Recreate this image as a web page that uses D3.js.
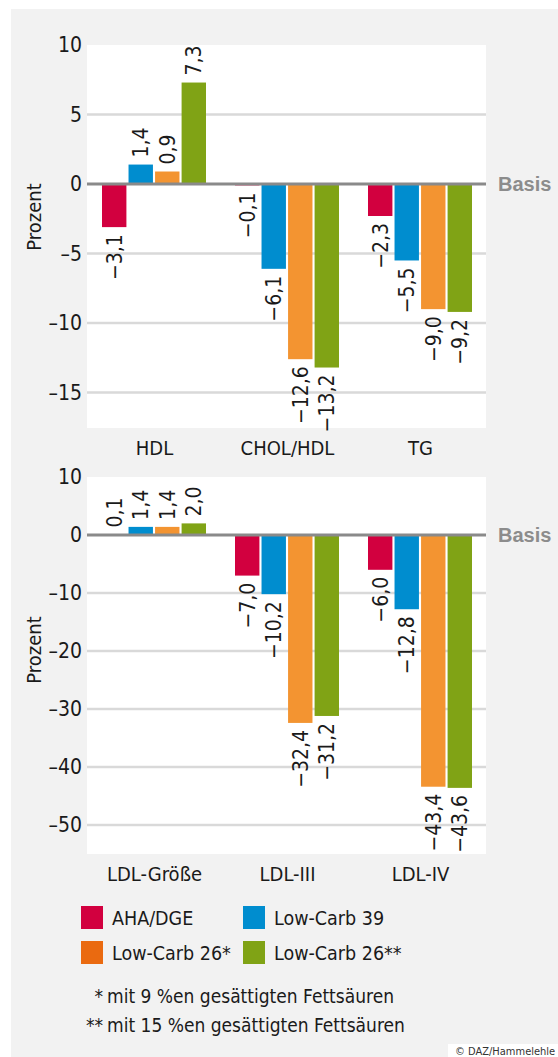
<!DOCTYPE html>
<html lang="de">
<head>
<meta charset="utf-8">
<script src="https://cdn.jsdelivr.net/npm/d3@7"></script>
<style>
  html, body { margin: 0; padding: 0; background: #ffffff; }
  svg { display: block; }
  .narrow { font-family: "Liberation Sans Narrow", "DejaVu Sans Condensed", "Arial Narrow", sans-serif; font-stretch: condensed; }
</style>
</head>
<body>
<svg id="chart" width="558" height="1057"></svg>
<script>
// Categories, split across the two panels
const categoriesTop = ["HDL", "CHOL/HDL", "TG"];
const categoriesBottom = ["LDL-Größe", "LDL-III", "LDL-IV"];

// Diets (series)
const seriesNames = ["AHA/DGE", "Low-Carb 39", "Low-Carb 26*", "Low-Carb 26**"];

// Percent change per series, in category order: HDL, CHOL/HDL, TG, LDL-Größe, LDL-III, LDL-IV
const ahaDge     = [-3.1,  -0.1, -2.3, 0.1,  -7.0,  -6.0];
const lowCarb39  = [ 1.4,  -6.1, -5.5, 1.4, -10.2, -12.8];
const lowCarb26a = [ 0.9, -12.6, -9.0, 1.4, -32.4, -43.4];
const lowCarb26b = [ 7.3, -13.2, -9.2, 2.0, -31.2, -43.6];

// Axis ticks
const topTicks = [10, 5, 0, -5, -10, -15];
const bottomTicks = [10, 0, -10, -20, -30, -40, -50];

// Footnotes
const footnoteMarks = ["*", "**"];
const footnoteTexts = ["mit 9 %en gesättigten Fettsäuren", "mit 15 %en gesättigten Fettsäuren"];

const barColors = ["#d2003f", "#008dcf", "#f39431", "#80a315"];
const legendColors = ["#d2003f", "#008dcf", "#ea6a10", "#80a315"];
const allSeries = [ahaDge, lowCarb39, lowCarb26a, lowCarb26b];

const svg = d3.select("#chart");
const fmt = v => d3.format(".1f")(v).replace(".", ",").replace("-", "\u2013");
const fmtTick = v => String(v).replace("-", "\u2013");

// Grey panel behind everything
svg.append("rect").attr("x", 11).attr("y", 9).attr("width", 547).attr("height", 1048).attr("fill", "#f2f2f2");

function drawPanel(opts) {
  const { categories, offset, domain, ticks, top, bottom, titleY } = opts;
  const left = 87, right = 486;
  const y = d3.scaleLinear().domain(domain).range([bottom, top]);
  const x0 = d3.scaleBand().domain(categories).range([left, right]).padding(0);
  const x1 = d3.scaleBand().domain(seriesNames).range([15, x0.bandwidth() - 14]).paddingInner(0.08).paddingOuter(0);

  const g = svg.append("g");

  // plot area
  g.append("rect").attr("x", left).attr("y", top).attr("width", right - left).attr("height", bottom - top).attr("fill", "#ffffff");

  // gridlines (skip zero and the top edge)
  g.selectAll("line.grid").data(ticks.filter(t => t !== 0 && t !== domain[1])).enter().append("line")
    .attr("x1", left).attr("x2", right)
    .attr("y1", d => y(d)).attr("y2", d => y(d))
    .attr("stroke", "#d9d9d9").attr("stroke-width", 2.5);

  // y axis tick labels
  const axis = d3.axisLeft(y).tickValues(ticks).tickSize(0).tickPadding(0).tickFormat(fmtTick);
  const ax = g.append("g").attr("transform", `translate(${left - 5},0)`).call(axis);
  ax.select(".domain").remove();
  ax.selectAll("text").attr("class", "narrow").attr("font-size", 21).attr("fill", "#1a1a1a").attr("dy", "0.33em");

  // y axis title
  g.append("text").attr("class", "narrow")
    .attr("transform", `translate(41,${titleY}) rotate(-90)`)
    .attr("text-anchor", "middle").attr("font-size", 20).attr("fill", "#1a1a1a")
    .text("Prozent");

  // bars
  const rows = [];
  categories.forEach((c, ci) => {
    seriesNames.forEach((s, si) => {
      rows.push({ cat: c, series: s, si, value: allSeries[si][ci + offset] });
    });
  });

  const groups = g.selectAll("g.bar").data(rows).enter().append("g")
    .attr("transform", d => `translate(${x0(d.cat) + x1(d.series)},0)`);

  groups.append("rect")
    .attr("x", 0).attr("width", x1.bandwidth())
    .attr("y", d => Math.min(y(0), y(d.value)))
    .attr("height", d => Math.abs(y(d.value) - y(0)))
    .attr("fill", d => barColors[d.si]);

  groups.append("text").attr("class", "narrow")
    .attr("transform", d => {
      const cx = x1.bandwidth() / 2;
      const yy = d.value >= 0 ? y(d.value) - 7 : y(d.value) + 7;
      return `translate(${cx},${yy}) rotate(-90)`;
    })
    .attr("text-anchor", d => d.value >= 0 ? "start" : "end")
    .attr("dy", "0.36em")
    .attr("font-size", 21).attr("fill", "#1a1a1a")
    .text(d => fmt(d.value));

  // zero line
  g.append("line").attr("x1", left).attr("x2", right).attr("y1", y(0)).attr("y2", y(0))
    .attr("stroke", "#8a8a8a").attr("stroke-width", 3);

  g.append("text")
    .attr("x", 498).attr("y", y(0) + 7)
    .attr("font-family", "Liberation Sans, Arial, sans-serif").attr("font-weight", "bold")
    .attr("font-size", 20).attr("fill", "#8c8c8c")
    .text("Basis");

  // category labels
  g.selectAll("text.cat").data(categories).enter().append("text").attr("class", "narrow")
    .attr("x", d => x0(d) + x0.bandwidth() / 2 + 1)
    .attr("y", bottom + 27)
    .attr("text-anchor", "middle").attr("font-size", 20).attr("fill", "#1a1a1a")
    .text(d => d);
}

drawPanel({ categories: categoriesTop, offset: 0, domain: [-17.55, 10], ticks: topTicks, top: 45, bottom: 428, titleY: 217 });
drawPanel({ categories: categoriesBottom, offset: 3, domain: [-55, 10], ticks: bottomTicks, top: 477, bottom: 854, titleY: 650 });

// legend
const legendPos = [[81, 906], [243, 906], [81, 941], [243, 941]];
const lg = svg.append("g");
seriesNames.forEach((s, i) => {
  const [lx, ly] = legendPos[i];
  lg.append("rect").attr("x", lx).attr("y", ly).attr("width", 22).attr("height", 23).attr("fill", legendColors[i]);
  lg.append("text").attr("class", "narrow")
    .attr("x", lx + 31).attr("y", ly + 19)
    .attr("font-size", 19.5).attr("fill", "#1a1a1a")
    .text(s);
});

// footnotes
const fnY = [1003, 1032];
footnoteTexts.forEach((t, i) => {
  svg.append("text").attr("class", "narrow")
    .attr("x", 103).attr("y", fnY[i]).attr("text-anchor", "end")
    .attr("font-size", 19).attr("fill", "#1a1a1a").text(footnoteMarks[i]);
  svg.append("text").attr("class", "narrow")
    .attr("x", 107).attr("y", fnY[i])
    .attr("font-size", 19).attr("fill", "#1a1a1a").text(t);
});

// credit
svg.append("rect").attr("x", 448).attr("y", 1044).attr("width", 110).attr("height", 13).attr("fill", "#ffffff");
svg.append("text").attr("class", "narrow")
  .attr("x", 455).attr("y", 1055)
  .attr("font-size", 11).attr("fill", "#333333")
  .text("© DAZ/Hammelehle");
</script>
</body>
</html>
